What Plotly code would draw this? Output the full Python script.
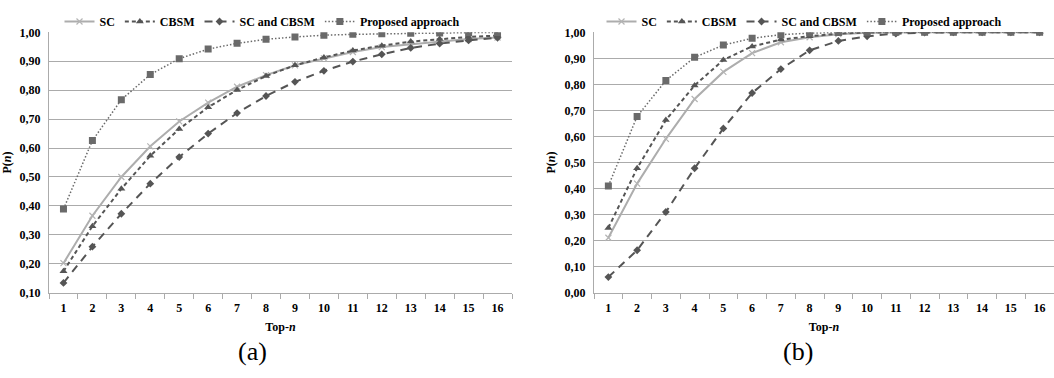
import plotly.graph_objects as go

categories = [str(i) for i in range(1, 17)]

# Chart (a)
a_sc = [0.202, 0.366, 0.500, 0.606, 0.692, 0.757, 0.812, 0.852, 0.886, 0.910, 0.932, 0.949, 0.959, 0.969, 0.977, 0.982]
a_cbsm = [0.174, 0.330, 0.459, 0.573, 0.666, 0.741, 0.801, 0.849, 0.886, 0.913, 0.937, 0.954, 0.968, 0.977, 0.984, 0.989]
a_both = [0.134, 0.259, 0.373, 0.477, 0.569, 0.650, 0.721, 0.780, 0.829, 0.867, 0.899, 0.924, 0.946, 0.961, 0.972, 0.981]
a_prop = [0.389, 0.626, 0.767, 0.854, 0.909, 0.942, 0.962, 0.976, 0.984, 0.990, 0.993, 0.995, 0.997, 0.998, 0.999, 0.999]

# Chart (b)
b_sc = [0.211, 0.419, 0.591, 0.744, 0.848, 0.920, 0.962, 0.981, 0.993, 0.998, 1.0, 1.0, 1.0, 1.0, 1.0, 1.0]
b_cbsm = [0.249, 0.478, 0.663, 0.796, 0.894, 0.946, 0.972, 0.985, 0.995, 0.999, 1.0, 1.0, 1.0, 1.0, 1.0, 1.0]
b_both = [0.060, 0.163, 0.310, 0.478, 0.631, 0.767, 0.859, 0.931, 0.967, 0.985, 0.995, 0.999, 1.0, 1.0, 1.0, 1.0]
b_prop = [0.410, 0.677, 0.815, 0.904, 0.951, 0.977, 0.991, 0.997, 0.999, 1.0, 1.0, 1.0, 1.0, 1.0, 1.0, 1.0]

names = ["SC", "CBSM", "SC and CBSM", "Proposed approach"]

styles = [
    dict(line=dict(color="#adadad", width=2, dash="solid"),
         marker=dict(symbol="x-thin", size=6, color="#b4b4b4", line=dict(color="#b4b4b4", width=1.2))),
    dict(line=dict(color="#555555", width=2, dash="4px,3px"),
         marker=dict(symbol="triangle-up", size=7, color="#555555")),
    dict(line=dict(color="#555555", width=2, dash="8px,6px"),
         marker=dict(symbol="diamond", size=6, color="#555555")),
    dict(line=dict(color="#6a6a6a", width=1.5, dash="1.5px,2px"),
         marker=dict(symbol="square", size=7, color="#6a6a6a")),
]

fig = go.Figure()
for series, xa, ya, lg in [((a_sc, a_cbsm, a_both, a_prop), "x", "y", "legend"),
                           ((b_sc, b_cbsm, b_both, b_prop), "x2", "y2", "legend2")]:
    for name, vals, st in zip(names, series, styles):
        fig.add_trace(go.Scatter(x=categories, y=vals, name=name, mode="lines+markers",
                                 xaxis=xa, yaxis=ya, legend=lg, **st))

tickfont = dict(family="Liberation Serif", size=12, color="#000000", weight="bold")
titlefont = dict(family="Liberation Serif", size=12, color="#000000", weight="bold")
grid = "#ababab"

def xaxis(domain, anchor):
    return dict(domain=domain, anchor=anchor, type="category", range=[-0.5, 15.5],
                showgrid=False, showline=True, linecolor=grid, linewidth=1,
                ticks="outside", tickson="boundaries", ticklen=5, tickcolor=grid,
                ticklabelstandoff=4,
                tickfont=tickfont, title=dict(text="Top-<i>n</i>", font=titlefont, standoff=8),
                fixedrange=True)

def yaxis(domain, anchor, rng):
    return dict(domain=domain, anchor=anchor, range=rng, dtick=0.1, tick0=0,
                tickformat=".2f", showgrid=True, gridcolor=grid, gridwidth=1,
                showline=True, linecolor=grid, linewidth=1, zeroline=False,
                ticks="", tickfont=tickfont, ticklabelstandoff=5,
                title=dict(text="P(<i>n</i>)", font=titlefont, standoff=6))

ydom = [1 - 296.7 / 378, 1 - 26.3 / 378]
legfont = dict(family="Liberation Serif", size=12, color="#000000", weight="bold")

fig.update_layout(
    width=1054, height=378,
    margin=dict(l=0, r=0, t=0, b=0),
    paper_bgcolor="white", plot_bgcolor="white",
    separators=",.",
    xaxis=xaxis([49 / 1054, 512 / 1054], "y"),
    yaxis=yaxis(ydom, "x", [0.10, 1.00]),
    xaxis2=xaxis([594 / 1054, 1.0], "y2"),
    yaxis2=yaxis(ydom, "x2", [0.0, 1.00]),
    legend=dict(orientation="h", x=262 / 1054, xanchor="center", y=1.0, yanchor="top",
                font=legfont, bgcolor="rgba(0,0,0,0)", tracegroupgap=0, itemwidth=30),
    legend2=dict(orientation="h", x=804 / 1054, xanchor="center", y=1.0, yanchor="top",
                 font=legfont, bgcolor="rgba(0,0,0,0)", tracegroupgap=0, itemwidth=30),
    showlegend=True,
    annotations=[
        dict(text="(a)", x=252 / 1054, y=1 - 358 / 378, xref="paper", yref="paper",
             xanchor="center", yanchor="middle",
             showarrow=False, font=dict(family="Liberation Serif", size=26, color="#000000")),
        dict(text="(b)", x=798 / 1054, y=1 - 358 / 378, xref="paper", yref="paper",
             xanchor="center", yanchor="middle",
             showarrow=False, font=dict(family="Liberation Serif", size=26, color="#000000")),
    ],
)

fig.write_html("out.html")
